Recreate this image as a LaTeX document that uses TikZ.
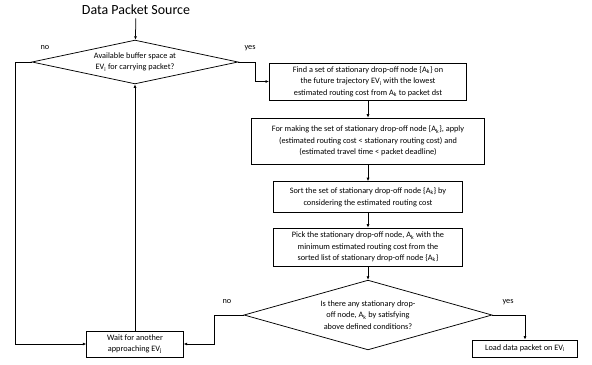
\documentclass[tikz,border=0pt]{standalone}
\usepackage{fontspec}
\setmainfont{Carlito}
\usetikzlibrary{shapes.geometric,arrows.meta}
\newcommand{\lowidx}[1]{\textsubscript{#1}}
\begin{document}
\begin{tikzpicture}[x=1bp, y=-1bp,
  every node/.style={font=\fontsize{8.3}{11.5}\selectfont},
  stepbox/.style={draw, line width=0.75pt, align=center, inner sep=0pt},
  choice/.style={draw, diamond, line width=0.75pt, align=center, inner sep=0pt},
  arr/.style={line width=0.75pt, -{Latex[length=3.5pt, width=3pt]}},
  lnk/.style={line width=0.75pt}]
\useasboundingbox (0,0) rectangle (592,364);
\node[font=\fontsize{14}{16}\selectfont] (src) at (136,10){Data Packet Source};
\node[choice, aspect=4.7, minimum width=207, minimum height=44] (d1) at (135,62){Available buffer space at\\EV\lowidx{i} for carrying packet?};
\draw[arr](src) -- (d1);
\node[stepbox, minimum width=198, minimum height=37] (b1) at (368,81.5){Find a set of stationary drop-off node \{A\lowidx{k}\} on\\the future trajectory EV\lowidx{i} with the lowest\\estimated routing cost from A\lowidx{k} to packet dst};
\node[stepbox, minimum width=234, minimum height=46] (b2) at (368,141){For making the set of stationary drop-off node \{A\lowidx{k}\}, apply\\(estimated routing cost < stationary routing cost) and\\(estimated travel time < packet deadline)};
\node[stepbox, minimum width=190, minimum height=31] (b3) at (368,197){Sort the set of stationary drop-off node \{A\lowidx{k}\} by\\considering the estimated routing cost};
\node[stepbox, minimum width=190, minimum height=38] (b4) at (368,247){Pick the stationary drop-off node, A\lowidx{k} with the\\minimum estimated routing cost from the\\sorted list of stationary drop-off node \{A\lowidx{k}\}};
\node[choice, aspect=3.5, minimum width=249, minimum height=70] (d2) at (368,315){Is there any stationary drop-\\off node, A\lowidx{k} by satisfying\\above defined conditions?};
\node[stepbox, minimum width=97, minimum height=26] (wait) at (135,344){Wait for another\\approaching EV\lowidx{j}};
\node[stepbox, minimum width=106, minimum height=17] (load) at (525,348.5){Load data packet on EV\lowidx{i}};
\node (no1) at (45,48){no};
\node (yes1) at (250,48){yes};
\node (no2) at (227,302){no};
\node (yes2) at (508,302){yes};
\draw[arr](d1.east) -- ++(17,0) |- (b1);
\draw[arr](b1) -- (b2);
\draw[arr](b2) -- (b3);
\draw[arr](b3) -- (b4);
\draw[arr](b4) -- (d2);
\draw[arr](d2.east) -| (load);
\draw[arr](d2.west) -- ++(-29,0) |- (wait);
\draw[arr](d1.west) -- ++(-16,0) |- (wait);
\draw[arr](wait) -- (d1);
\end{tikzpicture}
\end{document}
